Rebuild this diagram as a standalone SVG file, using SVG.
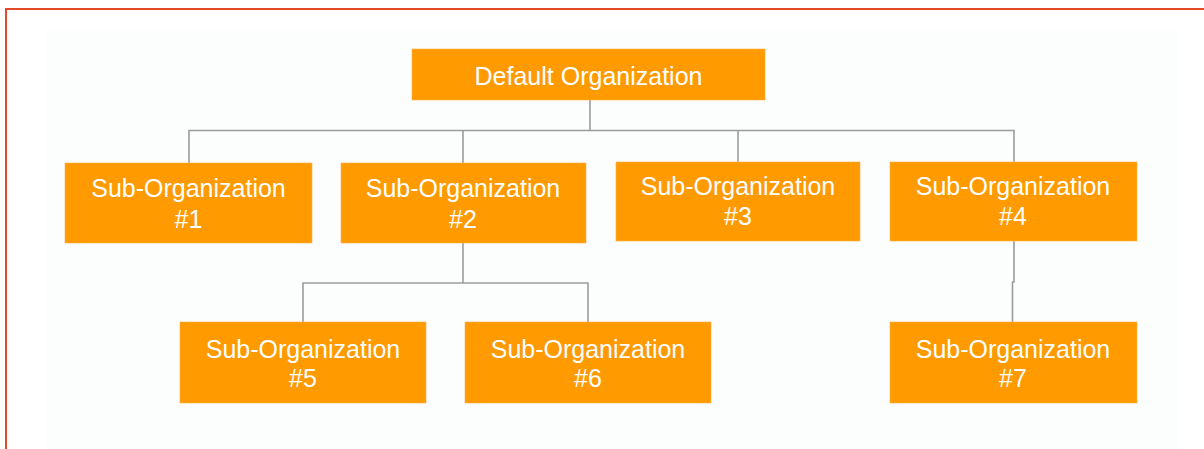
<svg xmlns="http://www.w3.org/2000/svg" width="1204" height="449" viewBox="0 0 1204 449">
<style>
.node rect{fill:#ff9a00;stroke:#ffb347;stroke-width:0.6}
.node text{fill:#ffffff;font-family:"Liberation Sans",Arial,sans-serif;font-size:25px;text-anchor:middle}
.conn{fill:none;stroke:#9c9c9c;stroke-width:1.6}
</style>
<rect x="0" y="0" width="1204" height="449" fill="#ffffff"/>
<rect x="46" y="30" width="1132" height="419" fill="#fcfdfd"/>
<path d="M6 449 V9 H1204" fill="none" stroke="#e24a29" stroke-width="2"/>
<g id="connectors">
<path class="conn" d="M590 100 V130"/>
<path class="conn" d="M189 163 V130.5 H1014 V162"/>
<path class="conn" d="M463 130.5 V163"/>
<path class="conn" d="M738 130.5 V162"/>
<path class="conn" d="M463 243 V283"/>
<path class="conn" d="M303 322 V283 H588 V322"/>
<path class="conn" d="M1014 241 V282 H1012.5 V322"/>
</g>
<g id="default-org" class="node">
<rect x="412" y="49" width="353" height="51"/>
<text x="588.5" y="85">Default Organization</text>
</g>
<g id="sub-org-1" class="node">
<rect x="65" y="163" width="247" height="80"/>
<text x="188.5" y="197">Sub-Organization</text>
<text x="188.5" y="228">#1</text>
</g>
<g id="sub-org-2" class="node">
<rect x="341" y="163" width="245" height="80"/>
<text x="463" y="197">Sub-Organization</text>
<text x="463" y="228">#2</text>
</g>
<g id="sub-org-3" class="node">
<rect x="616" y="162" width="244" height="79"/>
<text x="738" y="195">Sub-Organization</text>
<text x="738" y="225">#3</text>
</g>
<g id="sub-org-4" class="node">
<rect x="890" y="162" width="247" height="79"/>
<text x="1013" y="195">Sub-Organization</text>
<text x="1013" y="225">#4</text>
</g>
<g id="sub-org-5" class="node">
<rect x="180" y="322" width="246" height="81"/>
<text x="303" y="358">Sub-Organization</text>
<text x="303" y="387">#5</text>
</g>
<g id="sub-org-6" class="node">
<rect x="465" y="322" width="246" height="81"/>
<text x="588" y="358">Sub-Organization</text>
<text x="588" y="387">#6</text>
</g>
<g id="sub-org-7" class="node">
<rect x="890" y="322" width="247" height="81"/>
<text x="1013" y="358">Sub-Organization</text>
<text x="1013" y="387">#7</text>
</g>
</svg>
